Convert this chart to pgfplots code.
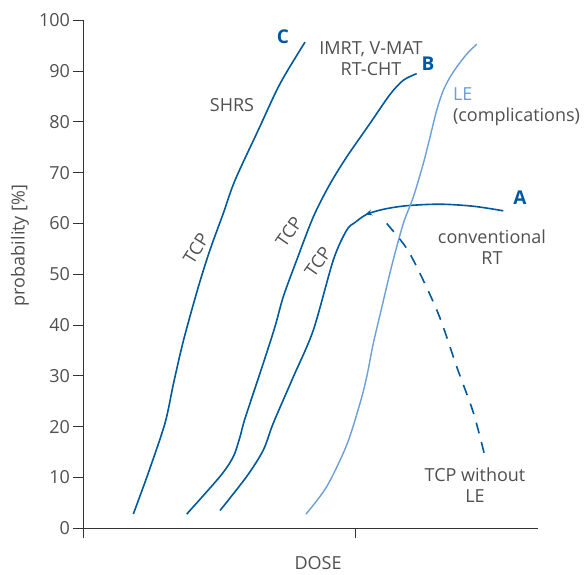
\documentclass[border=0pt]{standalone}
\usepackage{pgfplots}
\pgfplotsset{compat=1.18}
\usepackage{fontspec}
\setmainfont{Open Sans}
\usetikzlibrary{decorations.markings,arrows.meta}
\definecolor{tcpblue}{HTML}{00599C}
\definecolor{leblue}{HTML}{6C9FDA}
\definecolor{txtgray}{HTML}{505050}

\begin{document}
\begin{tikzpicture}
\begin{axis}[
  name=ax,
  width=454.5pt, height=508pt, scale only axis,
  xmin=0, xmax=454.5, ymin=0, ymax=100,
  axis lines*=left,
  axis line style={black!80, line width=0.9pt},
  xtick={0,271.5}, xticklabels={},
  ytick={0,10,...,100},
  tick align=outside, major tick length=10pt,
  tick style={black!80, line width=0.9pt},
  font=\fontsize{18}{21}\selectfont,
  ticklabel style={txtgray},
  /pgf/number format/assume math mode=true,
  xlabel={DOSE}, ylabel={probability [\%]},
  xlabel style={txtgray, at={(axis description cs:0.516,0)}, anchor=center, yshift=-35pt},
  ylabel style={txtgray, at={(axis description cs:-0.14,0.557)}, anchor=center},
  clip=false,
  every axis plot/.append style={line width=1.6pt, smooth},
]
% C: SHRS
\addplot[tcpblue] coordinates {
(49.8,2.8) (65,11) (81.5,20.7) (90,28.5) (100,37) (114.8,47.5) (126.5,54.8)
(139.8,62.0) (151.5,68.5) (174.8,78.4) (196.5,87.5) (221.5,95.7)};
% B: IMRT, V-MAT
\addplot[tcpblue] coordinates {
(103.2,2.8) (136.5,10.2) (149.8,14.1) (156.5,18.0) (161.5,21.6) (179.8,32.5)
(191.5,39.7) (199.8,45.6) (213.2,52.8) (229.8,61.3) (246,67.6) (263.2,73.1)
(286.5,79.7) (306.5,85.4) (319.8,88.2) (333.2,89.5)};
% A: conventional RT
\addplot[tcpblue, postaction={decorate}, decoration={markings,
  mark=at position 0.72 with {\arrow{Stealth[length=6.5pt,width=6pt,reversed]}}}]
  coordinates {
(136.5,3.5) (163.2,10.2) (179.8,15.4) (189.8,20.7) (209.8,29.8) (229.8,39.0)
(249.8,52.8) (263.2,58.7) (271.5,60.2) (283.2,61.8) (300,62.8) (323.2,63.5)
(356.5,63.8) (389.8,63.4) (419.8,62.5)};
% LE (complications)
\addplot[leblue, line width=1.4pt] coordinates {
(222.5,2.8) (243.2,8.2) (263.2,16.4) (276.5,24.6) (283.2,29.8) (289.8,36.4)
(296.5,42.0) (308,51.5) (319.8,60.0) (329.8,65.2) (339.8,71.8) (346.5,77.0)
(353.2,82.3) (359.8,86.2) (366.5,88.8) (373.2,90.8) (383,93.3) (393.2,95.3)};
% TCP without LE
\addplot[tcpblue, dash pattern=on 11pt off 9pt] coordinates {
(303.2,60.0) (323.2,55.1) (339.8,48.8) (356.5,41.4) (373.2,31.8) (389.8,22.8)
(401.5,14.1)};

\begin{scope}[every node/.style={txtgray, font=\fontsize{18}{21}\selectfont}]
\node[tcpblue, font=\fontsize{19}{21}\selectfont\bfseries] at (axis cs:199.5,96.7) {C};
\node[tcpblue, font=\fontsize{19}{21}\selectfont\bfseries] at (axis cs:344.5,91.5) {B};
\node[tcpblue, font=\fontsize{19}{21}\selectfont\bfseries] at (axis cs:436.5,65.0) {A};
\node[align=center] at (axis cs:287.5,92.4) {IMRT, V-MAT\\RT-CHT};
\node at (axis cs:148.5,83.3) {SHRS};
\node[align=left, anchor=west] at (axis cs:366,82.9) {\textcolor{leblue}{LE}\\(complications)};
\node[align=center] at (axis cs:408.5,55.4) {conventional\\RT};
\node[align=center] at (axis cs:391.5,8.5) {TCP without\\LE};
\node[rotate=58, inner sep=1pt] at (axis cs:112.5,55.1) {TCP};
\node[rotate=55, inner sep=1pt] at (axis cs:205.5,58.3) {TCP};
\node[rotate=55, inner sep=1pt] at (axis cs:234.5,52.4) {TCP};
\end{scope}
\end{axis}
\pgfresetboundingbox
\path[use as bounding box] ([shift={(-83.5pt,-45.7pt)}]ax.south west)
  rectangle ([shift={(502.5pt,528.3pt)}]ax.south west);
\end{tikzpicture}
\end{document}
